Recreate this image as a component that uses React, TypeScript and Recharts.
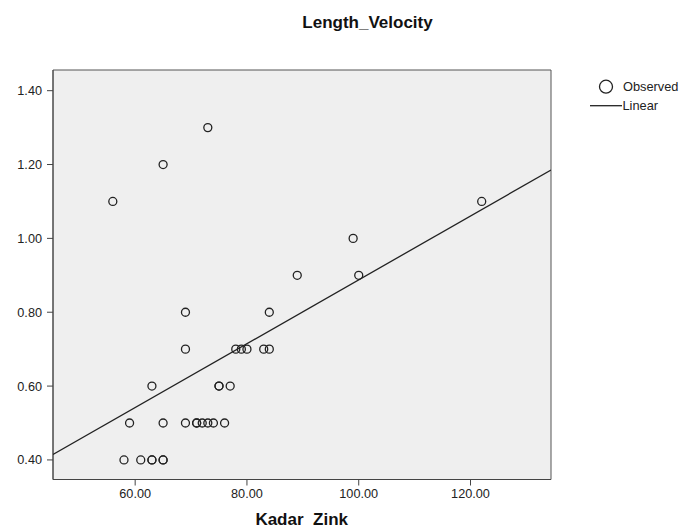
import React from 'react';
import { ScatterChart, Scatter, XAxis, YAxis, CartesianGrid, ReferenceArea } from 'recharts';

// observed points (Kadar Zink vs Length_Velocity)
const zinc = [56, 65, 73, 122, 99, 89, 100, 69, 84, 69, 78, 79, 80, 83, 84, 63, 75, 75, 77, 59, 65, 69, 71, 71, 72, 73, 74, 76, 58, 61, 63, 63, 65, 65];
const velocity = [1.1, 1.2, 1.3, 1.1, 1.0, 0.9, 0.9, 0.8, 0.8, 0.7, 0.7, 0.7, 0.7, 0.7, 0.7, 0.6, 0.6, 0.6, 0.6, 0.5, 0.5, 0.5, 0.5, 0.5, 0.5, 0.5, 0.5, 0.5, 0.4, 0.4, 0.4, 0.4, 0.4, 0.4];

// linear fit, end points read at the plot edges
const fitX = [45.3, 134.4];
const fitY = [0.415, 1.185];

const xDomain = [45.3, 134.4];
const yDomain = [0.347, 1.456];
const xTicks = [60, 80, 100, 120];
const yTicks = [0.4, 0.6, 0.8, 1.0, 1.2, 1.4];

const observed = zinc.map((x, i) => ({ x, y: velocity[i] }));
const linear = fitX.map((x, i) => ({ x, y: fitY[i] }));

const FONT = '"Liberation Sans", Arial, sans-serif';
const INK = '#222';

const RingDot = (props: any) => (
    <circle cx={props.cx} cy={props.cy} r={4} fill="none" stroke={INK} strokeWidth={1.3} />
);

const App = () => {
    return (
        <div style={{ position: 'absolute', left: 0, top: 0, width: 680, height: 531, background: '#fff', fontFamily: FONT }}>
            <ScatterChart width={680} height={531} margin={{ top: 70, right: 129, bottom: 21.5, left: 0 }}>
                <CartesianGrid horizontal={false} vertical={false} fill="#efefef" fillOpacity={1} />
                <XAxis
                    type="number"
                    dataKey="x"
                    domain={xDomain}
                    ticks={xTicks}
                    allowDataOverflow
                    height={30}
                    tickSize={6}
                    tickMargin={3}
                    tickFormatter={(v) => v.toFixed(2)}
                    stroke="#444"
                    tick={{ fill: INK, fontSize: 12.7, fontFamily: FONT }}
                />
                <YAxis
                    type="number"
                    dataKey="y"
                    domain={yDomain}
                    ticks={yTicks}
                    allowDataOverflow
                    width={53}
                    tickSize={6}
                    tickMargin={5}
                    tickFormatter={(v) => v.toFixed(2)}
                    stroke="#444"
                    tick={{ fill: INK, fontSize: 12.7, fontFamily: FONT }}
                />
                <ReferenceArea
                    x1={xDomain[0]}
                    x2={xDomain[1]}
                    y1={yDomain[0]}
                    y2={yDomain[1]}
                    fill="none"
                    stroke="#555"
                    strokeWidth={1}
                    ifOverflow="visible"
                />
                <Scatter
                    data={linear}
                    line={{ stroke: INK, strokeWidth: 1.3 }}
                    shape={() => null}
                    isAnimationActive={false}
                />
                <Scatter data={observed} shape={RingDot} isAnimationActive={false} />
            </ScatterChart>

            {/* title, axis label and legend */}
            <svg width={680} height={531} style={{ position: 'absolute', left: 0, top: 0, pointerEvents: 'none' }}>
                <text x={367.5} y={28} textAnchor="middle" fontSize={17} fontWeight="bold" fill="#111" fontFamily={FONT}>
                    Length_Velocity
                </text>
                <text x={301.7} y={525} textAnchor="middle" fontSize={17} fontWeight="bold" fill="#111" fontFamily={FONT} xmlSpace="preserve">
                    Kadar  Zink
                </text>
                <circle cx={606} cy={86.7} r={6.5} fill="none" stroke={INK} strokeWidth={1.3} />
                <text x={623} y={91.2} fontSize={12.8} fill={INK} fontFamily={FONT}>Observed</text>
                <line x1={590} x2={622} y1={105.7} y2={105.7} stroke={INK} strokeWidth={1.3} />
                <text x={622.5} y={110} fontSize={12.8} fill={INK} fontFamily={FONT}>Linear</text>
            </svg>
        </div>
    );
};

export default App;
